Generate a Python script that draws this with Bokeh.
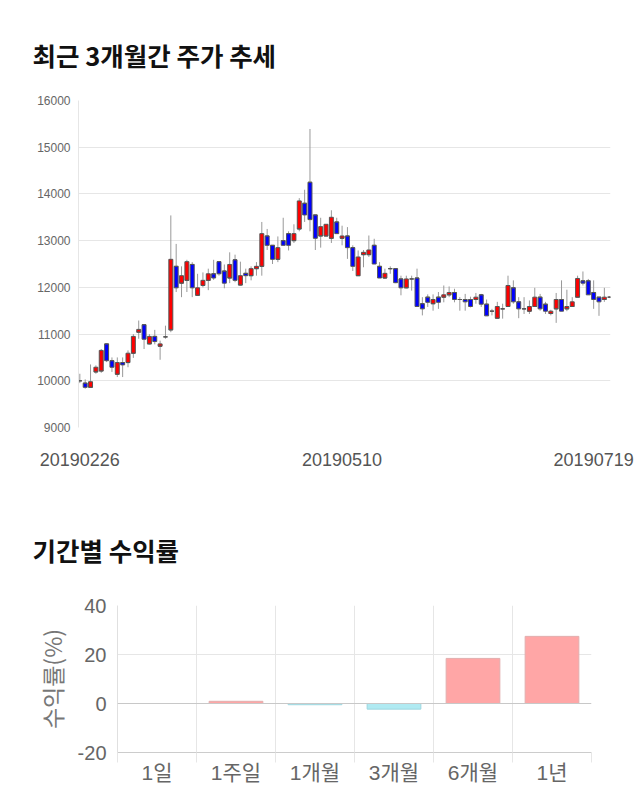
from bokeh.plotting import figure
from bokeh.models import Range1d, FixedTicker, Span, ColumnDataSource
from bokeh.embed import file_html
from bokeh.resources import INLINE

# ---- daily prices (2019-02-26 .. 2019-07-19) ----
opens = [10000, 9950, 9860, 10190, 10210, 10790, 10430, 10140, 10390, 10390,
         10590, 11040, 11200, 10790, 10950, 10740, 10940, 11090, 12450, 12090,
         12150, 12490, 11830, 12040, 12150, 12290, 12550, 12350, 12200, 12590,
         12050, 12300, 12250, 12400, 12450, 13100, 12900, 12600, 13000, 13150,
         13000, 13250, 13800, 14250, 13550, 13100, 13100, 13050, 13400, 13050,
         13100, 12850, 12250, 12700, 12700, 12900, 12450, 12200, 12400, 12400,
         12180, 11990, 12180, 12200, 11650, 11790, 11650, 11790, 11790, 11840,
         11890, 11740, 11740, 11740, 11740, 11840, 11640, 11490, 11340, 11540,
         11590, 11990, 11690, 11540, 11490, 11590, 11790, 11640, 11440, 11540,
         11740, 11540, 11590, 11790, 12140, 12140, 11890, 11790, 11740, 11790]
highs = [10150, 10030, 10350, 10330, 10680, 10800, 10500, 10500, 10500, 10650,
         11000, 11290, 11200, 11000, 11090, 10860, 11180, 13540, 12930, 12450,
         12590, 12540, 12290, 12320, 12400, 12590, 12550, 12490, 12750, 12700,
         12550, 12400, 12450, 12540, 13400, 13250, 12900, 13090, 13490, 13200,
         13350, 13910, 14090, 15390, 13550, 13490, 13350, 13650, 13490, 13320,
         13290, 12900, 12790, 12800, 13110, 13040, 12540, 12400, 12450, 12400,
         12250, 12250, 12250, 12400, 11790, 11850, 11850, 11900, 12040, 12020,
         11970, 11790, 11860, 11800, 11880, 11860, 11740, 11540, 11690, 11650,
         12250, 12150, 11790, 11790, 11720, 11990, 11860, 11690, 11520, 11880,
         12150, 11950, 11790, 12250, 12340, 12180, 12150, 11790, 11990, 11810]
lows = [9950, 9830, 9860, 10150, 10170, 10400, 10190, 10080, 10080, 10290,
        10490, 10900, 10680, 10780, 10780, 10450, 10900, 11040, 11900, 11790,
        11900, 11790, 11830, 12000, 11940, 12160, 12250, 11980, 12090, 12110,
        12040, 12090, 12150, 12250, 12250, 12800, 12500, 12540, 12900, 12790,
        12950, 13200, 13400, 13200, 12800, 12850, 13090, 12950, 13150, 12900,
        12610, 12350, 12250, 12430, 12650, 12500, 12200, 12180, 12290, 12090,
        11830, 11980, 11930, 11590, 11400, 11580, 11500, 11540, 11680, 11790,
        11680, 11500, 11500, 11570, 11650, 11580, 11390, 11400, 11340, 11330,
        11580, 11650, 11340, 11430, 11430, 11580, 11500, 11430, 11400, 11240,
        11490, 11490, 11580, 11790, 12040, 11840, 11540, 11390, 11690, 11770]
closes = [10000, 9860, 9980, 10290, 10650, 10430, 10290, 10390, 10340, 10590,
          10950, 11100, 10890, 10950, 10840, 10790, 10940, 12600, 11990, 12250,
          12550, 11990, 11990, 12150, 12290, 12200, 12290, 12090, 12490, 12150,
          12250, 12250, 12400, 12450, 13150, 12900, 12600, 12850, 12900, 12900,
          13150, 13850, 13550, 13450, 13050, 13300, 13350, 13500, 13150, 13100,
          12850, 12450, 12650, 12750, 12800, 12500, 12200, 12300, 12400, 12100,
          11990, 12180, 12180, 11590, 11540, 11680, 11740, 11680, 11840, 11890,
          11740, 11740, 11690, 11590, 11790, 11640, 11390, 11490, 11590, 11540,
          12040, 11690, 11540, 11540, 11590, 11790, 11540, 11490, 11490, 11740,
          11490, 11590, 11690, 12190, 12090, 11840, 11740, 11690, 11790, 11790]
date_ticks = ["20190226", "20190510", "20190719"]
price_ticks = [9000, 10000, 11000, 12000, 13000, 14000, 15000, 16000]

# ---- period returns ----
periods = ["1일", "1주일", "1개월", "3개월", "6개월", "1년"]
returns = [0.0, 0.9, -0.5, -2.3, 18.4, 27.4]
return_ticks = [-20, 0, 20, 40]

LATIN_KR = "Liberation Sans, Noto Sans CJK KR"
KR = "Noto Sans CJK KR"

# ================= top: candlestick =================
n = len(opens)
idx = list(range(n))
up = [c > o for o, c in zip(opens, closes)]
src = ColumnDataSource(dict(
    x=idx,
    x0=[i - 0.37 for i in idx],
    x1=[i + 0.37 for i in idx],
    o=opens, h=highs, l=lows, c=closes,
    top=[max(o, c) for o, c in zip(opens, closes)],
    bot=[min(o, c) for o, c in zip(opens, closes)],
    color=["#ff0000" if u else "#0000ff" for u in up],
))

p1 = figure(width=640, height=490, output_backend="svg", toolbar_location=None,
            x_range=Range1d(-0.25, 99.15), y_range=Range1d(9000, 16000),
            min_border_left=78, min_border_right=30, min_border_top=100,
            min_border_bottom=63)
p1.title.text = "최근 3개월간 주가 추세"
p1.title.text_font = KR
p1.title.text_font_size = "25.5px"
p1.title.text_font_style = "bold"
p1.title.text_color = "#111111"
p1.title.align = "left"
p1.title.offset = -46
p1.title.standoff = 56
p1.outline_line_color = None

p1.segment(x0="x", x1="x", y0="l", y1="h", source=src, line_color="#999999", line_width=1)
p1.vbar(x="x", width=0.74, top="top", bottom="bot", source=src,
        fill_color="color", line_color="#555555", line_width=1)
p1.segment(x0="x0", x1="x1", y0="o", y1="o", source=src, line_color="#555555", line_width=1)

p1.xgrid.grid_line_color = None
p1.ygrid.grid_line_color = "#e6e6e6"
p1.ygrid.ticker = FixedTicker(ticks=price_ticks)
p1.yaxis.ticker = FixedTicker(ticks=price_ticks)
p1.yaxis.axis_line_color = "#e6e6e6"
p1.yaxis.major_tick_line_color = None
p1.yaxis.minor_tick_line_color = None
p1.yaxis.major_tick_out = 0
p1.yaxis.major_label_standoff = 8
p1.yaxis.major_label_text_font = LATIN_KR
p1.yaxis.major_label_text_font_size = "12px"
p1.yaxis.major_label_text_color = "#666666"

date_pos = [0, 49, 96]
p1.xaxis.ticker = FixedTicker(ticks=date_pos)
p1.xaxis.major_label_overrides = {pos: lab for pos, lab in zip(date_pos, date_ticks)}
p1.xaxis.axis_line_color = None
p1.xaxis.major_tick_line_color = None
p1.xaxis.minor_tick_line_color = None
p1.xaxis.major_tick_out = 0
p1.xaxis.major_label_standoff = 25
p1.xaxis.major_label_text_font = LATIN_KR
p1.xaxis.major_label_text_font_size = "18px"
p1.xaxis.major_label_text_color = "#555555"

# ================= bottom: returns bar =================
xc = [i + 0.5 for i in range(len(periods))]
bsrc = ColumnDataSource(dict(
    x=xc, top=returns,
    fill=["#ffa6a6" if r >= 0 else "#b0eaf2" for r in returns],
    line=["#e2aeae" if r >= 0 else "#9fd6df" for r in returns],
))

p2 = figure(width=640, height=310, output_backend="svg", toolbar_location=None,
            x_range=Range1d(0, len(periods)), y_range=Range1d(-20, 40),
            min_border_left=117, min_border_right=49, min_border_top=115,
            min_border_bottom=48)
p2.title.text = "기간별 수익률"
p2.title.text_font = KR
p2.title.text_font_size = "25.5px"
p2.title.text_font_style = "bold"
p2.title.text_color = "#111111"
p2.title.align = "left"
p2.title.offset = -85
p2.title.standoff = 75
p2.outline_line_color = None

p2.vbar(x="x", top="top", bottom=0, width=0.68, source=bsrc,
        fill_color="fill", line_color="line", line_width=1)
p2.add_layout(Span(location=0, dimension="width", line_color="#c8c8c8", line_width=1))

p2.xgrid.ticker = FixedTicker(ticks=list(range(len(periods) + 1)))
p2.xgrid.grid_line_color = "#e6e6e6"
p2.ygrid.ticker = FixedTicker(ticks=[t for t in return_ticks if t != 0])
p2.ygrid.grid_line_color = "#e6e6e6"

p2.yaxis.ticker = FixedTicker(ticks=return_ticks)
p2.yaxis.major_label_overrides = {t: str(t) for t in return_ticks}
p2.yaxis.axis_line_color = "#e0e0e0"
p2.yaxis.major_tick_line_color = None
p2.yaxis.minor_tick_line_color = None
p2.yaxis.major_tick_out = 0
p2.yaxis.major_label_standoff = 11
p2.yaxis.major_label_text_font = LATIN_KR
p2.yaxis.major_label_text_font_size = "20px"
p2.yaxis.major_label_text_color = "#666666"
p2.yaxis.axis_label = "수익률(%)"
p2.yaxis.axis_label_text_font = KR
p2.yaxis.axis_label_text_font_size = "23px"
p2.yaxis.axis_label_text_font_style = "normal"
p2.yaxis.axis_label_text_color = "#777777"
p2.yaxis.axis_label_standoff = 6

p2.xaxis.ticker = FixedTicker(ticks=xc, minor_ticks=list(range(len(periods) + 1)))
p2.xaxis.major_label_overrides = {x: lab for x, lab in zip(xc, periods)}
p2.xaxis.axis_line_color = "#cccccc"
p2.xaxis.major_tick_line_color = None
p2.xaxis.major_tick_out = 0
p2.xaxis.minor_tick_in = 0
p2.xaxis.minor_tick_out = 10
p2.xaxis.minor_tick_line_color = "#e6e6e6"
p2.xaxis.major_label_standoff = -2
p2.xaxis.major_label_text_font = LATIN_KR
p2.xaxis.major_label_text_font_size = "21px"
p2.xaxis.major_label_text_color = "#666666"

open("out.html", "w").write(file_html([p1, p2], INLINE))
